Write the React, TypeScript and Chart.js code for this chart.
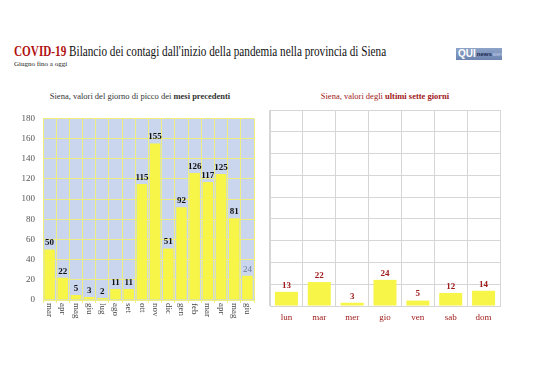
import React, { useEffect, useRef } from "react";
import { Chart, registerables } from "chart.js";

Chart.register(...registerables);

const monthLabels = ["mar", "apr", "mag", "giu", "lug", "ago", "set", "ott", "nov", "dic", "gen", "feb", "mar", "apr", "mag", "giu"];
const monthPeaks = [50, 22, 5, 3, 2, 11, 11, 115, 155, 51, 92, 126, 117, 125, 81, 24];
const dayLabels = ["lun", "mar", "mer", "gio", "ven", "sab", "dom"];
const dayValues = [13, 22, 3, 24, 5, 12, 14];
const yTicks = [0, 20, 40, 60, 80, 100, 120, 140, 160, 180];

const SERIF = "'Liberation Serif', 'DejaVu Serif', serif";

function makeLabelPlugin(colorFn: (i: number) => string, weightFn: (i: number) => string, size: number) {
  return {
    id: "valueLabels",
    afterDatasetsDraw(chart: any) {
      const ctx = chart.ctx;
      const meta = chart.getDatasetMeta(0);
      const data = chart.data.datasets[0].data;
      ctx.save();
      ctx.textAlign = "center";
      ctx.textBaseline = "bottom";
      meta.data.forEach((el: any, i: number) => {
        ctx.font = `${weightFn(i)} ${size}px ${SERIF}`;
        ctx.fillStyle = colorFn(i);
        ctx.fillText(String(data[i]), el.x, el.y - 2);
      });
      ctx.restore();
    },
  };
}

const bgPlugin = (color: string) => ({
  id: "plotBg",
  beforeDraw(chart: any) {
    const { ctx, chartArea } = chart;
    ctx.save();
    ctx.fillStyle = color;
    ctx.fillRect(chartArea.left, chartArea.top, chartArea.right - chartArea.left, chartArea.bottom - chartArea.top);
    ctx.restore();
  },
});

const downLabelsPlugin = {
  id: "downLabels",
  afterDraw(chart: any) {
    const { ctx, chartArea } = chart;
    const xs = chart.scales.x;
    const labels = chart.data.labels as string[];
    ctx.save();
    ctx.font = `9px ${SERIF}`;
    ctx.fillStyle = "#444";
    ctx.textAlign = "left";
    ctx.textBaseline = "middle";
    labels.forEach((lab, i) => {
      const x = xs.getPixelForTick(i);
      ctx.save();
      ctx.translate(x, chartArea.bottom + 3);
      ctx.rotate(Math.PI / 2);
      ctx.fillText(lab, 0, 0);
      ctx.restore();
    });
    ctx.restore();
  },
};

function LeftChart() {
  const ref = useRef<HTMLCanvasElement>(null);
  useEffect(() => {
    const chart = new Chart(ref.current!, {
      type: "bar",
      data: {
        labels: monthLabels,
        datasets: [
          {
            data: monthPeaks,
            backgroundColor: "#f7f547",
            borderWidth: 0,
            barPercentage: 0.8,
            categoryPercentage: 1,
          },
        ],
      },
      options: {
        animation: false,
        responsive: false,
        maintainAspectRatio: false,
        layout: { padding: { top: 6, right: 2, left: 0, bottom: 0 } },
        plugins: { legend: { display: false }, tooltip: { enabled: false }, title: { display: false } },
        scales: {
          x: {
            offset: true,
            grid: { color: "#eeee80", lineWidth: 1, offset: true, drawTicks: true, tickLength: 3 },
            border: { color: "#eeee80" },
            ticks: { display: false },
            afterFit(axis: any) {
              axis.height = 30;
            },
          },
          y: {
            min: 0,
            max: 180,
            afterBuildTicks(axis: any) {
              axis.ticks = yTicks.map((v) => ({ value: v }));
            },
            grid: { color: "#eeee80", lineWidth: 1, drawTicks: false },
            border: { color: "#eeee80" },
            ticks: { color: "#555", font: { family: SERIF, size: 9 }, padding: 8 },
            afterFit(axis: any) {
              axis.width = 33;
            },
          },
        },
      },
      plugins: [
        bgPlugin("#c9d6ee"),
        downLabelsPlugin,
        makeLabelPlugin(
          (i) => (i === monthPeaks.length - 1 ? "#6c7a96" : "#111"),
          (i) => (i === monthPeaks.length - 1 ? "normal" : "bold"),
          9
        ),
      ],
    });
    return () => chart.destroy();
  }, []);
  return (
    <canvas
      ref={ref}
      width={246}
      height={225}
      style={{ position: "absolute", left: 10, top: 105, width: 246, height: 225 }}
    />
  );
}

function RightChart() {
  const ref = useRef<HTMLCanvasElement>(null);
  useEffect(() => {
    const chart = new Chart(ref.current!, {
      type: "bar",
      data: {
        labels: dayLabels,
        datasets: [
          {
            data: dayValues,
            backgroundColor: "#f7f547",
            borderWidth: 0,
            barPercentage: 0.7,
            categoryPercentage: 1,
          },
        ],
      },
      options: {
        animation: false,
        responsive: false,
        maintainAspectRatio: false,
        layout: { padding: { top: 6, right: 5, left: 5, bottom: 0 } },
        plugins: { legend: { display: false }, tooltip: { enabled: false }, title: { display: false } },
        scales: {
          x: {
            offset: true,
            grid: { color: "#d6d6d6", lineWidth: 1, offset: true, drawTicks: false },
            border: { color: "#d6d6d6" },
            ticks: { color: "#a01c1c", font: { family: SERIF, size: 9 }, padding: 6, autoSkip: false, maxRotation: 0 },
            afterFit(axis: any) {
              axis.height = 29;
            },
          },
          y: {
            min: 0,
            max: 180,
            afterBuildTicks(axis: any) {
              axis.ticks = yTicks.map((v) => ({ value: v }));
            },
            grid: { color: "#d6d6d6", lineWidth: 1, drawTicks: false },
            border: { color: "#d6d6d6" },
            ticks: { display: false },
            afterFit(axis: any) {
              axis.width = 0;
            },
          },
        },
      },
      plugins: [makeLabelPlugin(() => "#a01c1c", () => "bold", 9)],
    });
    return () => chart.destroy();
  }, []);
  return (
    <canvas
      ref={ref}
      width={240}
      height={231}
      style={{ position: "absolute", left: 265, top: 104, width: 240, height: 231 }}
    />
  );
}

export default function App() {
  return (
    <div
      style={{
        position: "absolute",
        left: 0,
        top: 0,
        width: 538,
        height: 380,
        background: "#fff",
        overflow: "hidden",
        fontFamily: SERIF,
      }}
    >
      <div
        style={{
          position: "absolute",
          left: 14,
          top: 43,
          fontSize: 14,
          whiteSpace: "nowrap",
          color: "#111",
          lineHeight: "17px",
          transform: "scaleX(0.8)",
          transformOrigin: "0 0",
        }}
      >
        <span style={{ color: "#b01010", fontWeight: "bold" }}>COVID-19</span> Bilancio dei contagi dall'inizio della pandemia nella provincia di Siena
      </div>
      <div style={{ position: "absolute", left: 14, top: 60, fontSize: 7, color: "#222", whiteSpace: "nowrap" }}>Giugno fino a oggi</div>
      <div
        style={{
          position: "absolute",
          left: 456,
          top: 48,
          width: 46,
          height: 12,
          background: "linear-gradient(#8ea4c8, #6c84b0)",
          display: "flex",
          alignItems: "center",
          fontFamily: "'Liberation Sans', sans-serif",
          lineHeight: "12px",
          overflow: "hidden",
        }}
      >
        <span style={{ color: "#fff", fontWeight: "bold", fontSize: 10, marginLeft: 2 }}>QUI</span>
        <span style={{ color: "#1a2850", fontSize: 6, fontWeight: "bold", marginLeft: 1 }}>news</span>
        <span style={{ color: "#c8d4ea", fontSize: 5, marginLeft: 1 }}>siena</span>
      </div>
      <div style={{ position: "absolute", left: 10, width: 260, top: 91, textAlign: "center", fontSize: 8.5, color: "#333", whiteSpace: "nowrap" }}>
        Siena, valori del giorno di picco dei <b>mesi precedenti</b>
      </div>
      <div style={{ position: "absolute", left: 270, width: 230, top: 91, textAlign: "center", fontSize: 8.5, color: "#a01818", whiteSpace: "nowrap" }}>
        Siena, valori degli <b>ultimi sette giorni</b>
      </div>
      <LeftChart />
      <RightChart />
    </div>
  );
}
